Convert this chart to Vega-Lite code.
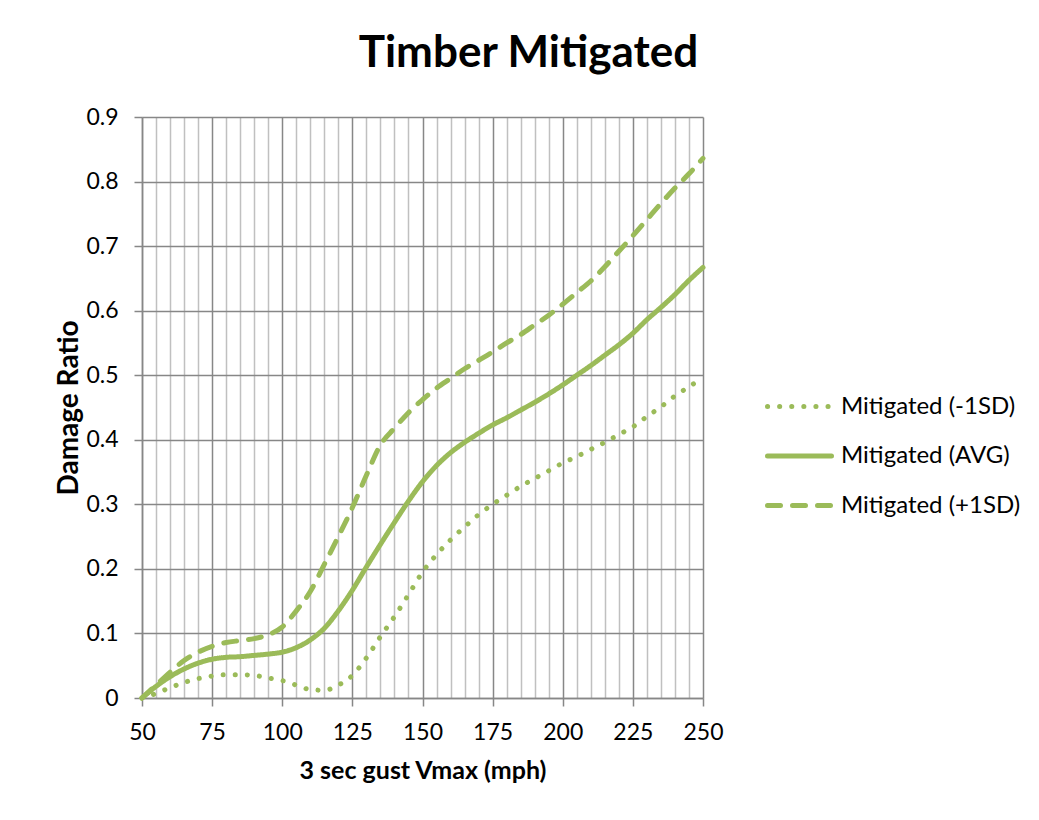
{
  "$schema": "https://vega.github.io/schema/vega-lite/v6.json",
  "width": 561,
  "height": 581,
  "autosize": {"type": "none"},
  "padding": {"left": 142, "top": 117, "right": 336, "bottom": 122},
  "background": "white",
  "title": {"text": "Timber Mitigated", "font": "Lato", "fontSize": 44, "fontWeight": "bold", "color": "black", "anchor": "middle", "dx": 106, "dy": 6, "offset": 1, "baseline": "alphabetic"},
  "config": {
    "view": {"stroke": null},
    "axis": {"labelFont": "Lato", "labelFontSize": 23, "labelColor": "black", "titleFont": "Lato", "titleFontSize": 25, "titleFontWeight": "bold", "titleColor": "black", "tickColor": "#878787", "tickSize": 8, "domainColor": "#878787", "domainWidth": 1.5, "tickWidth": 1.5, "gridWidth": 1.5},
    "legend": {"labelFont": "Lato", "labelFontSize": 24, "labelColor": "black", "labelLimit": 0}
  },
  "data": {"values": [
    {"x": 50, "y": 0.0, "s": "Mitigated (-1SD)"},
    {"x": 55, "y": 0.007, "s": "Mitigated (-1SD)"},
    {"x": 60, "y": 0.016, "s": "Mitigated (-1SD)"},
    {"x": 65, "y": 0.024, "s": "Mitigated (-1SD)"},
    {"x": 70, "y": 0.030, "s": "Mitigated (-1SD)"},
    {"x": 75, "y": 0.034, "s": "Mitigated (-1SD)"},
    {"x": 80, "y": 0.036, "s": "Mitigated (-1SD)"},
    {"x": 85, "y": 0.036, "s": "Mitigated (-1SD)"},
    {"x": 90, "y": 0.035, "s": "Mitigated (-1SD)"},
    {"x": 95, "y": 0.031, "s": "Mitigated (-1SD)"},
    {"x": 100, "y": 0.027, "s": "Mitigated (-1SD)"},
    {"x": 105, "y": 0.020, "s": "Mitigated (-1SD)"},
    {"x": 110, "y": 0.013, "s": "Mitigated (-1SD)"},
    {"x": 115, "y": 0.012, "s": "Mitigated (-1SD)"},
    {"x": 120, "y": 0.020, "s": "Mitigated (-1SD)"},
    {"x": 125, "y": 0.035, "s": "Mitigated (-1SD)"},
    {"x": 130, "y": 0.062, "s": "Mitigated (-1SD)"},
    {"x": 135, "y": 0.095, "s": "Mitigated (-1SD)"},
    {"x": 140, "y": 0.126, "s": "Mitigated (-1SD)"},
    {"x": 145, "y": 0.160, "s": "Mitigated (-1SD)"},
    {"x": 150, "y": 0.195, "s": "Mitigated (-1SD)"},
    {"x": 155, "y": 0.222, "s": "Mitigated (-1SD)"},
    {"x": 160, "y": 0.245, "s": "Mitigated (-1SD)"},
    {"x": 165, "y": 0.265, "s": "Mitigated (-1SD)"},
    {"x": 170, "y": 0.284, "s": "Mitigated (-1SD)"},
    {"x": 175, "y": 0.300, "s": "Mitigated (-1SD)"},
    {"x": 180, "y": 0.314, "s": "Mitigated (-1SD)"},
    {"x": 185, "y": 0.328, "s": "Mitigated (-1SD)"},
    {"x": 190, "y": 0.340, "s": "Mitigated (-1SD)"},
    {"x": 195, "y": 0.352, "s": "Mitigated (-1SD)"},
    {"x": 200, "y": 0.364, "s": "Mitigated (-1SD)"},
    {"x": 205, "y": 0.374, "s": "Mitigated (-1SD)"},
    {"x": 210, "y": 0.385, "s": "Mitigated (-1SD)"},
    {"x": 215, "y": 0.396, "s": "Mitigated (-1SD)"},
    {"x": 220, "y": 0.408, "s": "Mitigated (-1SD)"},
    {"x": 225, "y": 0.420, "s": "Mitigated (-1SD)"},
    {"x": 230, "y": 0.436, "s": "Mitigated (-1SD)"},
    {"x": 235, "y": 0.451, "s": "Mitigated (-1SD)"},
    {"x": 240, "y": 0.468, "s": "Mitigated (-1SD)"},
    {"x": 245, "y": 0.482, "s": "Mitigated (-1SD)"},
    {"x": 250, "y": 0.497, "s": "Mitigated (-1SD)"},
    {"x": 50, "y": 0.0, "s": "Mitigated (AVG)"},
    {"x": 55, "y": 0.018, "s": "Mitigated (AVG)"},
    {"x": 60, "y": 0.033, "s": "Mitigated (AVG)"},
    {"x": 65, "y": 0.045, "s": "Mitigated (AVG)"},
    {"x": 70, "y": 0.054, "s": "Mitigated (AVG)"},
    {"x": 75, "y": 0.060, "s": "Mitigated (AVG)"},
    {"x": 80, "y": 0.063, "s": "Mitigated (AVG)"},
    {"x": 85, "y": 0.064, "s": "Mitigated (AVG)"},
    {"x": 90, "y": 0.066, "s": "Mitigated (AVG)"},
    {"x": 95, "y": 0.068, "s": "Mitigated (AVG)"},
    {"x": 100, "y": 0.071, "s": "Mitigated (AVG)"},
    {"x": 105, "y": 0.078, "s": "Mitigated (AVG)"},
    {"x": 110, "y": 0.090, "s": "Mitigated (AVG)"},
    {"x": 115, "y": 0.108, "s": "Mitigated (AVG)"},
    {"x": 120, "y": 0.135, "s": "Mitigated (AVG)"},
    {"x": 125, "y": 0.167, "s": "Mitigated (AVG)"},
    {"x": 130, "y": 0.203, "s": "Mitigated (AVG)"},
    {"x": 135, "y": 0.238, "s": "Mitigated (AVG)"},
    {"x": 140, "y": 0.272, "s": "Mitigated (AVG)"},
    {"x": 145, "y": 0.305, "s": "Mitigated (AVG)"},
    {"x": 150, "y": 0.335, "s": "Mitigated (AVG)"},
    {"x": 155, "y": 0.360, "s": "Mitigated (AVG)"},
    {"x": 160, "y": 0.380, "s": "Mitigated (AVG)"},
    {"x": 165, "y": 0.396, "s": "Mitigated (AVG)"},
    {"x": 170, "y": 0.410, "s": "Mitigated (AVG)"},
    {"x": 175, "y": 0.423, "s": "Mitigated (AVG)"},
    {"x": 180, "y": 0.434, "s": "Mitigated (AVG)"},
    {"x": 185, "y": 0.446, "s": "Mitigated (AVG)"},
    {"x": 190, "y": 0.458, "s": "Mitigated (AVG)"},
    {"x": 195, "y": 0.471, "s": "Mitigated (AVG)"},
    {"x": 200, "y": 0.485, "s": "Mitigated (AVG)"},
    {"x": 205, "y": 0.500, "s": "Mitigated (AVG)"},
    {"x": 210, "y": 0.515, "s": "Mitigated (AVG)"},
    {"x": 215, "y": 0.531, "s": "Mitigated (AVG)"},
    {"x": 220, "y": 0.547, "s": "Mitigated (AVG)"},
    {"x": 225, "y": 0.565, "s": "Mitigated (AVG)"},
    {"x": 230, "y": 0.586, "s": "Mitigated (AVG)"},
    {"x": 235, "y": 0.605, "s": "Mitigated (AVG)"},
    {"x": 240, "y": 0.625, "s": "Mitigated (AVG)"},
    {"x": 245, "y": 0.647, "s": "Mitigated (AVG)"},
    {"x": 250, "y": 0.667, "s": "Mitigated (AVG)"},
    {"x": 50, "y": 0.0, "s": "Mitigated (+1SD)"},
    {"x": 55, "y": 0.020, "s": "Mitigated (+1SD)"},
    {"x": 60, "y": 0.040, "s": "Mitigated (+1SD)"},
    {"x": 65, "y": 0.058, "s": "Mitigated (+1SD)"},
    {"x": 70, "y": 0.071, "s": "Mitigated (+1SD)"},
    {"x": 75, "y": 0.080, "s": "Mitigated (+1SD)"},
    {"x": 80, "y": 0.086, "s": "Mitigated (+1SD)"},
    {"x": 85, "y": 0.089, "s": "Mitigated (+1SD)"},
    {"x": 90, "y": 0.092, "s": "Mitigated (+1SD)"},
    {"x": 95, "y": 0.098, "s": "Mitigated (+1SD)"},
    {"x": 100, "y": 0.110, "s": "Mitigated (+1SD)"},
    {"x": 105, "y": 0.135, "s": "Mitigated (+1SD)"},
    {"x": 110, "y": 0.165, "s": "Mitigated (+1SD)"},
    {"x": 115, "y": 0.207, "s": "Mitigated (+1SD)"},
    {"x": 120, "y": 0.250, "s": "Mitigated (+1SD)"},
    {"x": 125, "y": 0.295, "s": "Mitigated (+1SD)"},
    {"x": 130, "y": 0.345, "s": "Mitigated (+1SD)"},
    {"x": 135, "y": 0.392, "s": "Mitigated (+1SD)"},
    {"x": 140, "y": 0.418, "s": "Mitigated (+1SD)"},
    {"x": 145, "y": 0.442, "s": "Mitigated (+1SD)"},
    {"x": 150, "y": 0.462, "s": "Mitigated (+1SD)"},
    {"x": 155, "y": 0.480, "s": "Mitigated (+1SD)"},
    {"x": 160, "y": 0.495, "s": "Mitigated (+1SD)"},
    {"x": 165, "y": 0.510, "s": "Mitigated (+1SD)"},
    {"x": 170, "y": 0.523, "s": "Mitigated (+1SD)"},
    {"x": 175, "y": 0.536, "s": "Mitigated (+1SD)"},
    {"x": 180, "y": 0.550, "s": "Mitigated (+1SD)"},
    {"x": 185, "y": 0.563, "s": "Mitigated (+1SD)"},
    {"x": 190, "y": 0.578, "s": "Mitigated (+1SD)"},
    {"x": 195, "y": 0.593, "s": "Mitigated (+1SD)"},
    {"x": 200, "y": 0.610, "s": "Mitigated (+1SD)"},
    {"x": 205, "y": 0.628, "s": "Mitigated (+1SD)"},
    {"x": 210, "y": 0.646, "s": "Mitigated (+1SD)"},
    {"x": 215, "y": 0.668, "s": "Mitigated (+1SD)"},
    {"x": 220, "y": 0.692, "s": "Mitigated (+1SD)"},
    {"x": 225, "y": 0.716, "s": "Mitigated (+1SD)"},
    {"x": 230, "y": 0.741, "s": "Mitigated (+1SD)"},
    {"x": 235, "y": 0.766, "s": "Mitigated (+1SD)"},
    {"x": 240, "y": 0.790, "s": "Mitigated (+1SD)"},
    {"x": 245, "y": 0.812, "s": "Mitigated (+1SD)"},
    {"x": 250, "y": 0.836, "s": "Mitigated (+1SD)"}
  ]},
  "mark": {"type": "line", "stroke": "#9BBB59", "strokeWidth": 5, "strokeCap": "round", "strokeJoin": "round", "interpolate": "monotone"},
  "encoding": {
    "x": {"field": "x", "type": "quantitative",
      "scale": {"domain": [50, 250], "nice": false, "zero": false},
      "axis": {"title": "3 sec gust Vmax (mph)",
        "values": [50,55,60,65,70,75,80,85,90,95,100,105,110,115,120,125,130,135,140,145,150,155,160,165,170,175,180,185,190,195,200,205,210,215,220,225,230,235,240,245,250],
        "labelExpr": "datum.value % 25 === 0 ? datum.label : ''",
        "tickOpacity": {"condition": {"test": "datum.value % 25 === 0", "value": 1}, "value": 0},
        "gridColor": {"condition": {"test": "datum.value % 25 === 0", "value": "#878787"}, "value": "#c0c0c0"},
        "grid": true, "labelPadding": 15, "titlePadding": 14, "labelFlush": false, "labelOverlap": false}},
    "y": {"field": "y", "type": "quantitative",
      "scale": {"domain": [0, 0.9], "nice": false},
      "axis": {"title": "Damage Ratio", "titleFontSize": 28, "values": [0,0.1,0.2,0.3,0.4,0.5,0.6,0.7,0.8,0.9], "format": ".1~f", "grid": true, "gridColor": "#878787", "labelPadding": 16, "titlePadding": 2, "labelFlush": false}},
    "strokeDash": {"field": "s", "type": "nominal",
      "scale": {"domain": ["Mitigated (-1SD)", "Mitigated (AVG)", "Mitigated (+1SD)"], "range": [[0.1, 12], [1, 0], [13, 12]]},
      "legend": {"title": null, "orient": "none", "legendX": 623, "legendY": 255, "symbolType": "stroke", "symbolSize": 4096, "symbolStrokeWidth": 5, "symbolStrokeColor": "#9BBB59", "labelOffset": 7, "rowPadding": 2.5,
        "encode": {"symbols": {"update": {"strokeCap": {"value": "round"}, "stroke": {"value": "#9BBB59"}}}}}}
  }
}
